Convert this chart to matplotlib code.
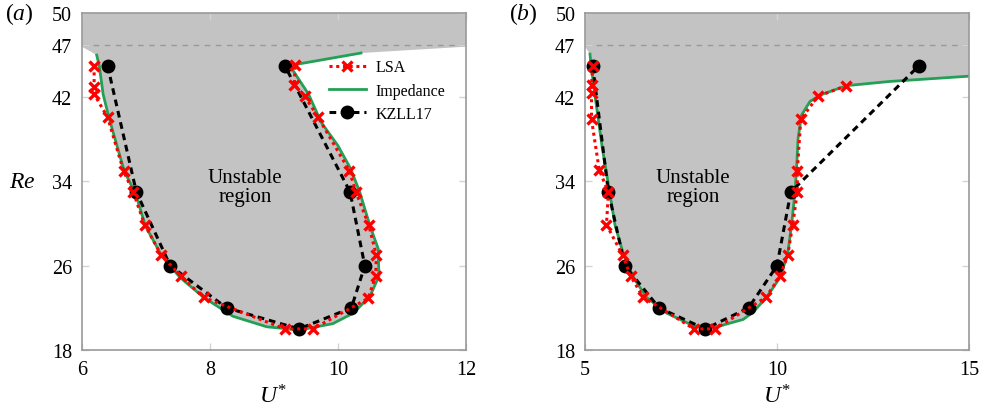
import matplotlib
matplotlib.use("Agg")
import matplotlib.pyplot as plt

plt.rcParams["font.family"] = ["Liberation Serif", "DejaVu Serif"]
plt.rcParams["mathtext.fontset"] = "custom"
plt.rcParams["mathtext.rm"] = "Liberation Serif"
plt.rcParams["mathtext.it"] = "Liberation Serif:italic"

# ---- panel (a) ----
lsa_u_a = [6.19, 6.19, 6.19, 6.40, 6.65, 6.80, 6.98, 7.24, 7.55, 7.90, 9.17, 9.61,
           10.47, 10.59, 10.60, 10.48, 10.28, 10.18, 9.69, 9.48, 9.32, 9.33]
lsa_re_a = [45.0, 43.0, 42.3, 40.1, 35.0, 33.0, 29.9, 27.0, 25.0, 23.0, 20.0, 20.0,
            22.9, 25.0, 27.0, 29.9, 33.0, 35.0, 40.1, 42.1, 43.2, 45.1]
imp_u_a = [6.23, 6.27, 6.33, 6.42, 6.66, 6.84, 6.99, 7.24, 7.53, 7.90, 8.36, 8.89, 9.40,
           9.92, 10.24, 10.50, 10.64, 10.63, 10.50, 10.34, 10.20, 10.00, 9.74, 9.54, 9.28,
           9.33, 10.36]
imp_re_a = [46.0, 45.0, 42.3, 40.1, 35.0, 32.8, 29.8, 27.0, 24.9, 23.0, 21.2, 20.2, 19.9,
            20.5, 21.5, 23.1, 25.0, 27.6, 29.8, 33.0, 35.2, 37.4, 39.6, 42.3, 44.7,
            45.1, 46.2]
kz_u_a = [6.40, 6.85, 7.38, 8.26, 9.39, 10.21, 10.42, 10.19, 9.17]
kz_re_a = [45.0, 33.0, 26.0, 22.0, 20.0, 22.0, 26.0, 33.0, 45.0]
# upper edge of the shaded region (closing the impedance curve)
top_u_a = [12.0, 12.0, 6.0, 6.0]
top_re_a = [46.8, 50.0, 50.0, 46.8]

# ---- panel (b) ----
lsa_u_b = [5.20, 5.17, 5.17, 5.17, 5.37, 5.61, 5.56, 5.98, 6.19, 6.52, 7.84, 8.39,
           9.71, 10.08, 10.28, 10.41, 10.53, 10.53, 10.62, 11.07, 11.81]
lsa_re_b = [45.0, 43.2, 42.4, 39.9, 35.1, 33.0, 29.9, 27.0, 25.0, 23.0, 20.0, 20.0,
            23.0, 25.0, 27.0, 29.9, 33.0, 35.0, 39.9, 42.1, 43.1]
imp_u_b = [5.13, 5.16, 5.27, 5.45, 5.61, 5.78, 6.00, 6.26, 6.60, 7.13, 7.82, 8.43, 9.12,
           9.38, 9.73, 10.08, 10.28, 10.38, 10.47, 10.51, 10.55, 10.64, 10.86, 11.12,
           11.81, 12.94, 15.0]
imp_re_b = [46.1, 45.0, 41.9, 37.2, 33.7, 29.9, 27.1, 24.9, 23.0, 21.5, 20.3, 20.2, 20.9,
            21.6, 23.0, 24.9, 27.1, 29.9, 33.0, 35.2, 38.1, 40.3, 41.6, 42.2,
            43.1, 43.5, 44.0]
kz_u_b = [5.20, 5.61, 6.04, 6.93, 8.13, 9.26, 10.00, 10.36, 13.70]
kz_re_b = [45.0, 33.0, 26.0, 22.0, 20.0, 22.0, 26.0, 33.0, 45.0]
top_u_b = [15.0, 5.0, 5.0]
top_re_b = [50.0, 50.0, 46.8]

y_ticks = [18, 26, 34, 42, 47, 50]
FILL = "#c3c3c3"
GREEN = "#23a055"
SPINE = "#999999"


def draw_panel(ax, lsa, imp, kz, top, xlim, xticks, text_pos, legend=False):
    fu = list(imp[0]) + list(top[0])
    fr = list(imp[1]) + list(top[1])
    ax.fill(fu, fr, color=FILL, lw=0, zorder=0)
    ax.axhline(47, color=SPINE, ls=(0, (4, 4)), lw=1.0, zorder=1)

    ax.plot(imp[0], imp[1], color=GREEN, lw=2.0, zorder=2, label="Impedance")
    ax.plot(kz[0], kz[1], color="black", ls=(0, (2.2, 1.6)), lw=2.2,
            marker="o", ms=9, zorder=3, label="KZLL17")
    ax.plot(lsa[0], lsa[1], color="red", ls=(0, (1, 1.2)), lw=2.2,
            marker="x", ms=7.5, mew=2.4, zorder=4, label="LSA")

    ax.text(text_pos[0], text_pos[1], "Unstable\nregion", ha="center", va="center",
            fontsize=15, linespacing=1.0, zorder=5)

    ax.set_xlim(*xlim)
    ax.set_ylim(18, 50)
    ax.set_xticks(xticks)
    ax.set_yticks(y_ticks)
    ax.tick_params(direction="in", length=5, width=1, color="#d4d4d4",
                   top=True, right=True, labelsize=14.5, pad=7)
    for s in ax.spines.values():
        s.set_color(SPINE)
        s.set_linewidth(1.2)

    if legend:
        h, l = ax.get_legend_handles_labels()
        order = [2, 0, 1]
        ax.legend([h[i] for i in order], [l[i] for i in order],
                  loc="upper left", bbox_to_anchor=(0.643, 0.862),
                  frameon=False, fontsize=11.5, handlelength=2.3,
                  labelspacing=0.45, borderpad=0, borderaxespad=0,
                  handletextpad=0.6)


fig = plt.figure(figsize=(9.84, 4.14), dpi=100)
ax_a = fig.add_axes([0.0833, 0.1522, 0.3902, 0.8140])
ax_b = fig.add_axes([0.5945, 0.1522, 0.3902, 0.8140])

draw_panel(ax_a, (lsa_u_a, lsa_re_a), (imp_u_a, imp_re_a), (kz_u_a, kz_re_a),
           (top_u_a, top_re_a), (6, 12), [6, 8, 10, 12], (8.55, 33.5), legend=True)
draw_panel(ax_b, (lsa_u_b, lsa_re_b), (imp_u_b, imp_re_b), (kz_u_b, kz_re_b),
           (top_u_b, top_re_b), (5, 15), [5, 10, 15], (7.82, 33.5))

fig.text(0.020, 0.966, r"($a$)", ha="center", va="center", fontsize=17)
fig.text(0.5315, 0.966, r"($b$)", ha="center", va="center", fontsize=17)
fig.text(0.0224, 0.560, r"$Re$", ha="center", va="center", fontsize=17)
fig.text(0.2774, 0.041, r"$U^{*}$", ha="center", va="center", fontsize=17)
fig.text(0.7896, 0.041, r"$U^{*}$", ha="center", va="center", fontsize=17)

fig.savefig("out.png", dpi=100)
